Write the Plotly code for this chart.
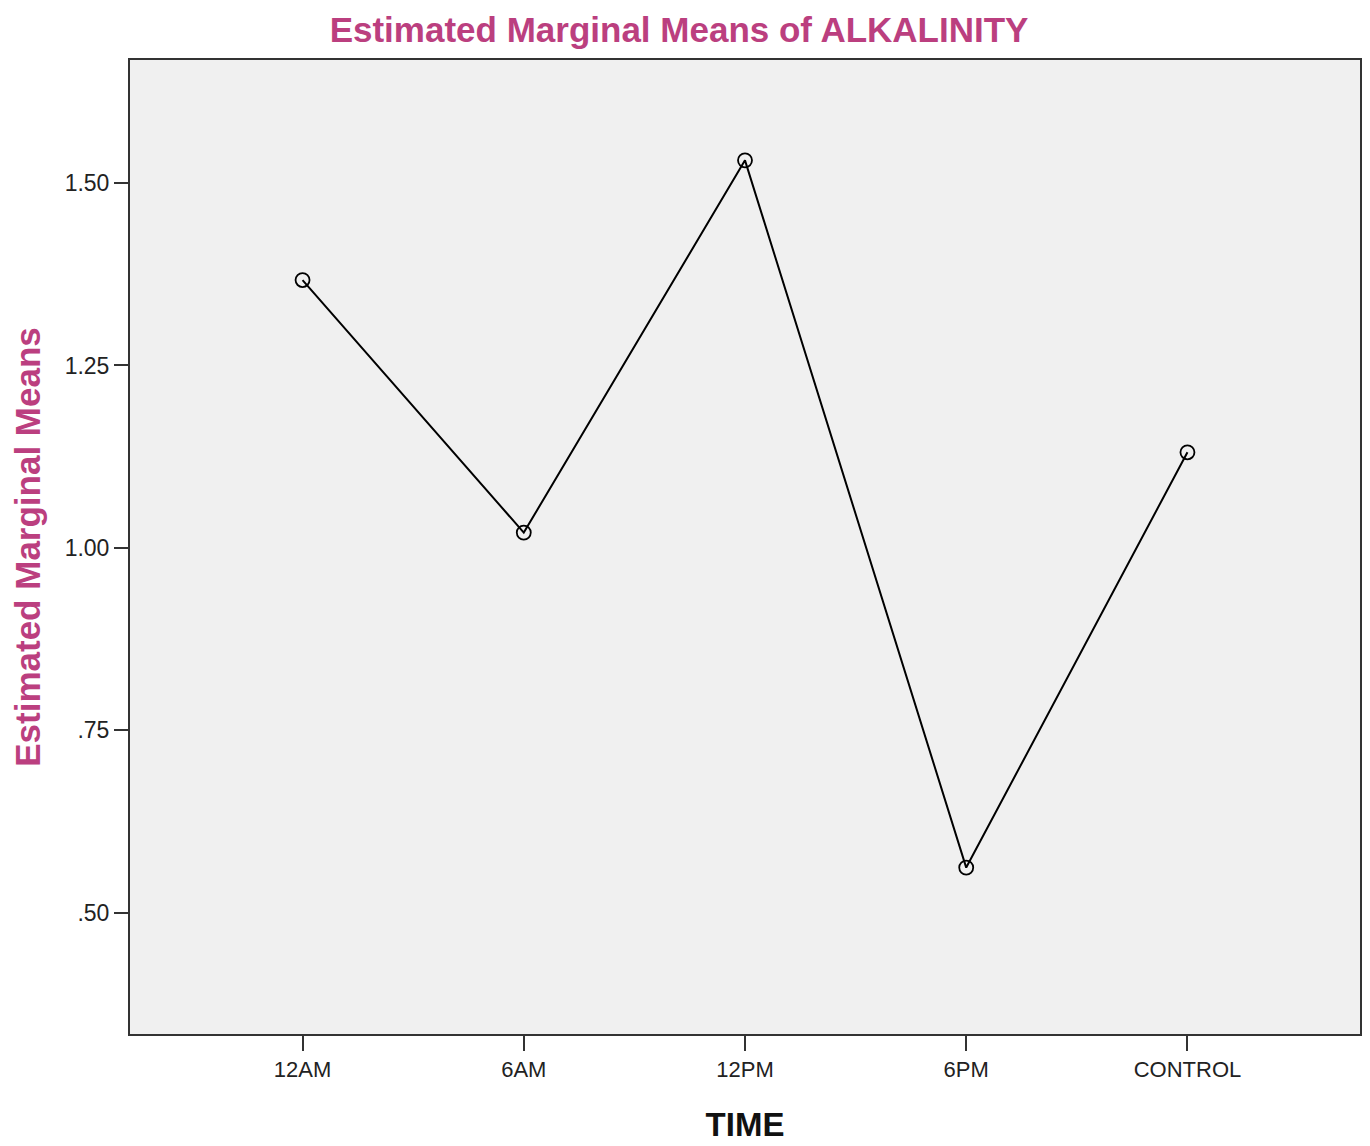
import plotly.graph_objects as go

categories = ["12AM", "6AM", "12PM", "6PM", "CONTROL"]
means = [1.367, 1.021, 1.531, 0.562, 1.131]
ytick_vals = [0.50, 0.75, 1.00, 1.25, 1.50]
ytick_text = [".50", ".75", "1.00", "1.25", "1.50"]

pink = "#bb3f7f"
font_fam = "Liberation Sans, Arial"
fig = go.Figure()
fig.add_trace(go.Scatter(
    x=list(range(len(categories))), y=means, mode="lines+markers",
    line=dict(color="black", width=2),
    marker=dict(symbol="circle-open", size=14, color="black", line=dict(width=1.8)),
    showlegend=False,
))
fig.update_layout(
    width=1362, height=1138,
    margin=dict(l=122, r=10, t=52, b=112),
    paper_bgcolor="white", plot_bgcolor="#f0f0f0",
    font=dict(family=font_fam, color="#222222"),
    title=dict(text="<b>Estimated Marginal Means of ALKALINITY</b>", x=0.4927, xanchor="center",
               y=0.981, yanchor="middle",
               font=dict(size=35, color=pink, family=font_fam)),
)
fig.update_xaxes(
    range=[-0.78, 4.78], tickmode="array", tickvals=list(range(len(categories))),
    ticktext=categories, ticks="outside", ticklen=15, tickwidth=2, tickcolor="#333",
    showline=True, linecolor="#333", linewidth=2, mirror=True, showgrid=False,
    zeroline=False, tickfont=dict(size=22, color="#222"), automargin=False,
    title=dict(text="<b>TIME</b>", font=dict(size=33, color="#111"), standoff=31),
)
fig.update_yaxes(
    range=[0.334, 1.6685], tickmode="array", tickvals=ytick_vals, ticktext=ytick_text,
    ticks="outside", ticklen=14, tickwidth=2, tickcolor="#333",
    showline=True, linecolor="#333", linewidth=2, mirror=True, showgrid=False,
    zeroline=False, tickfont=dict(size=23, color="#222"), automargin=False,
    title=dict(text="<b>Estimated Marginal Means</b>", font=dict(size=35, color=pink), standoff=16),
)
fig.write_html("out.html")
